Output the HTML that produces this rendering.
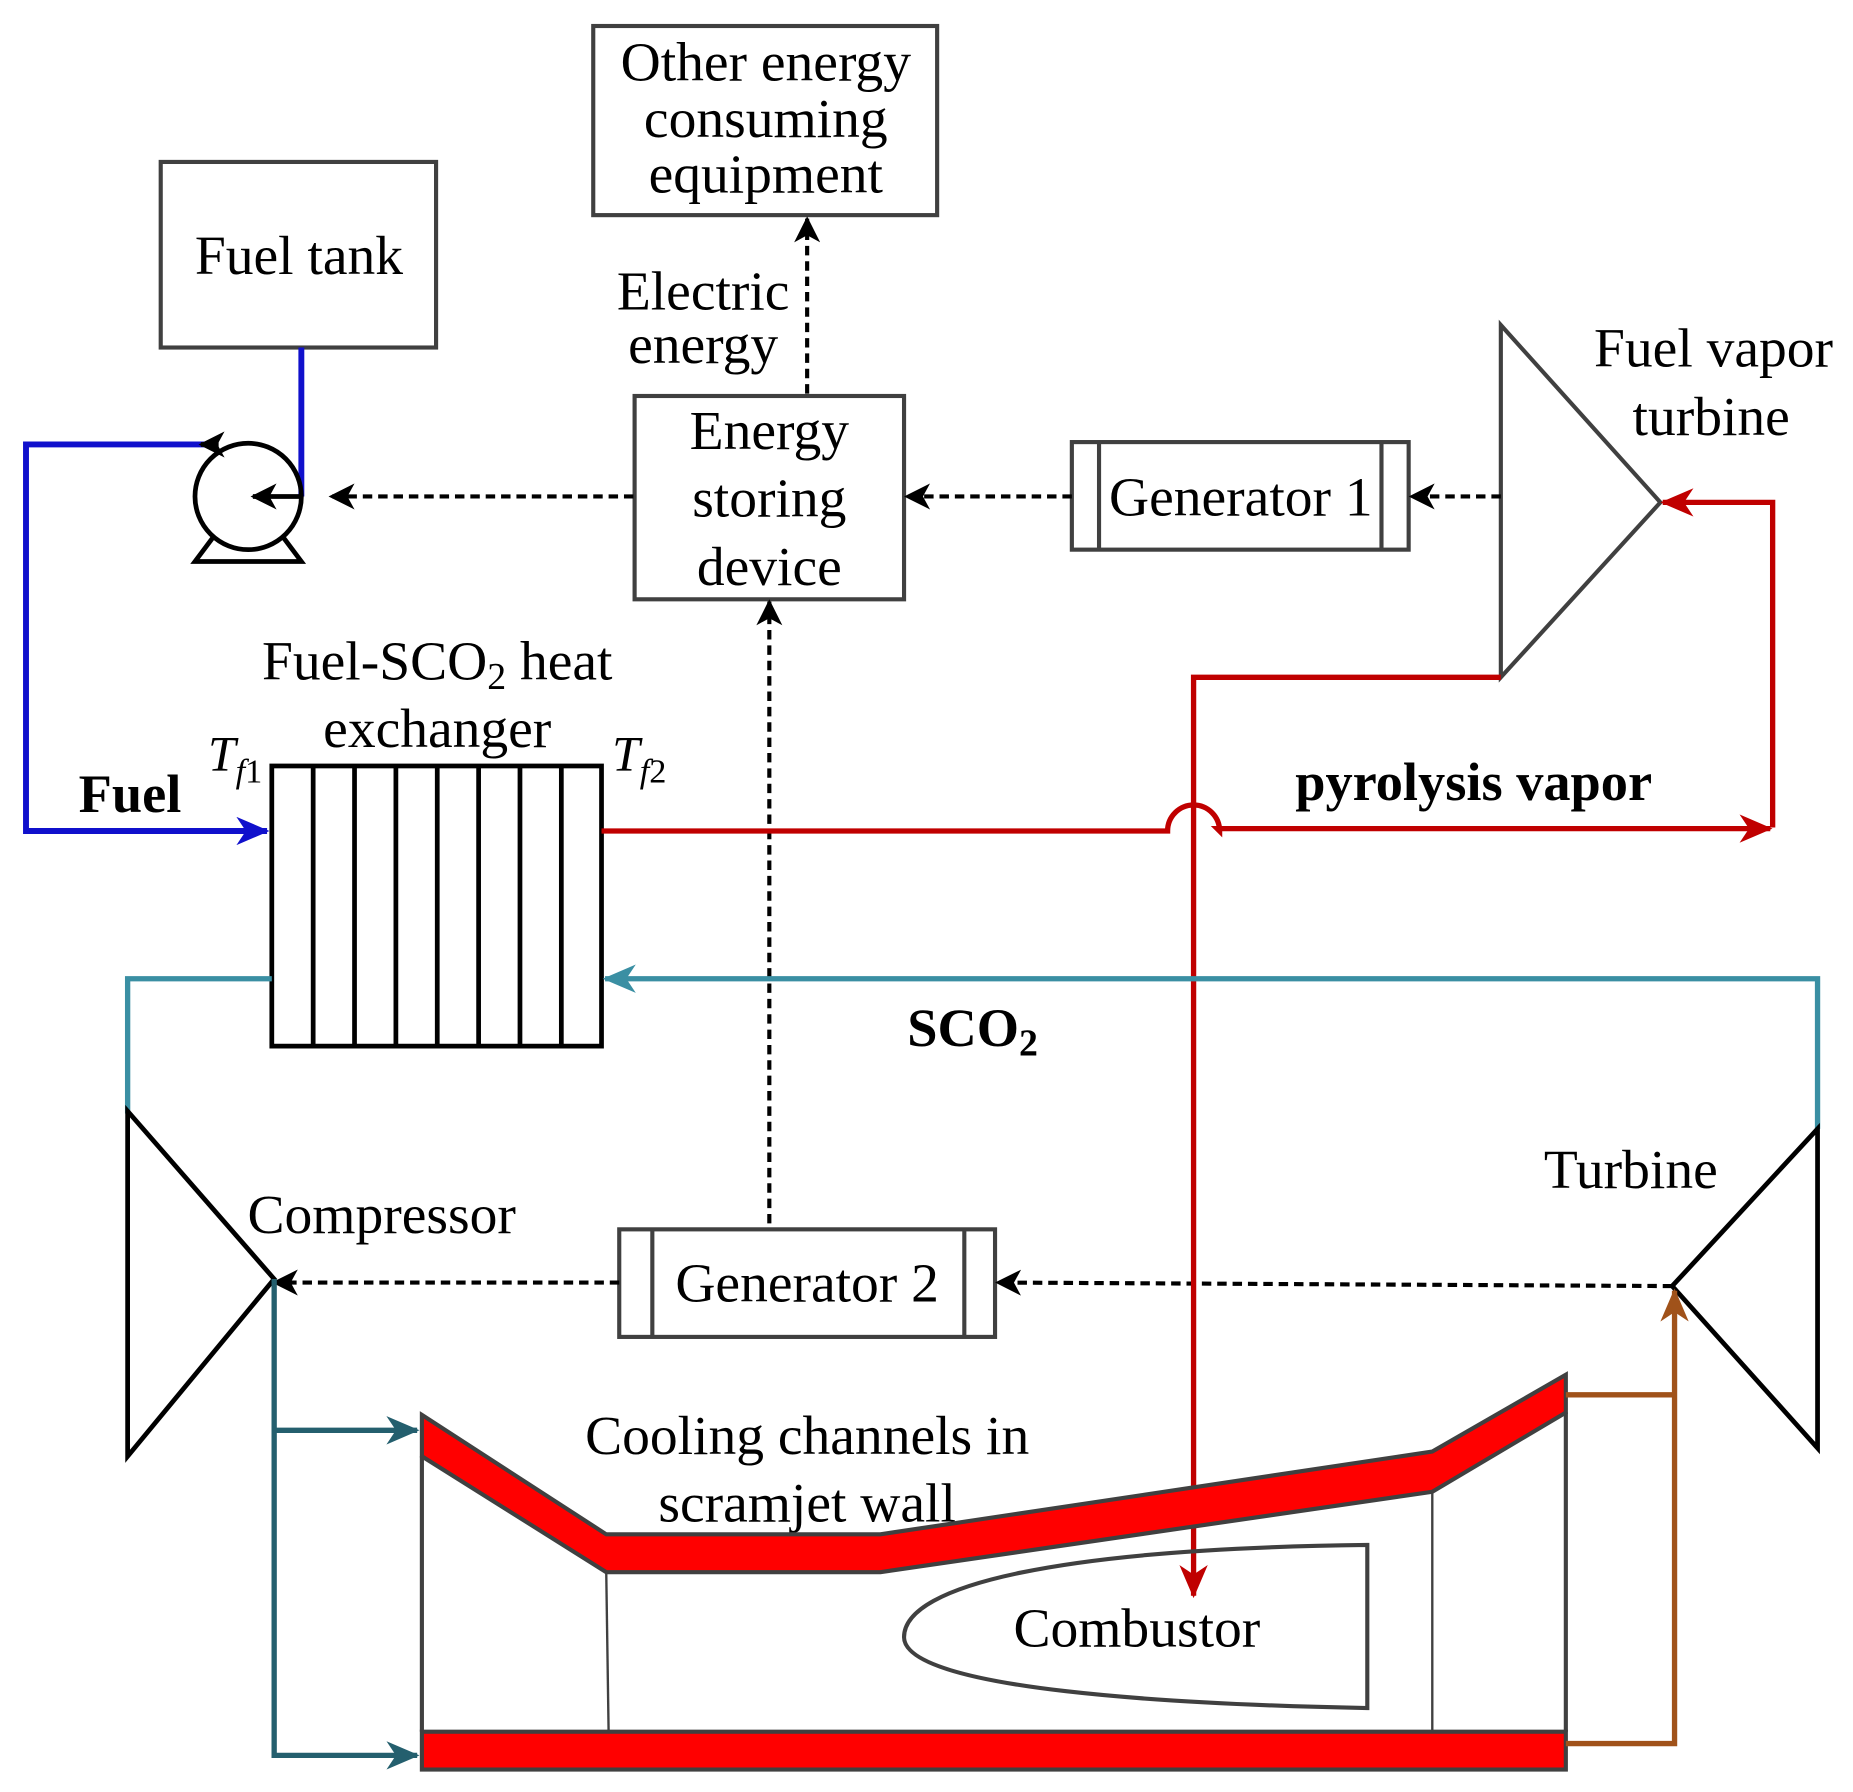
<!DOCTYPE html>
<html><head><meta charset="utf-8"><style>html,body{margin:0;padding:0;background:#fff}svg{display:block}</style></head>
<body>
<svg width="1853" height="1792" viewBox="0 0 1568 1516" preserveAspectRatio="none" xmlns="http://www.w3.org/2000/svg" font-family="Liberation Serif, serif" font-size="42">
<defs>
<marker id="ab" markerWidth="28" markerHeight="24" refX="26" refY="12" orient="auto" markerUnits="userSpaceOnUse"><path d="M0,0 L28,12 L0,24 L8,12 z" fill="#1010cc"/></marker>
<marker id="ar" markerWidth="28" markerHeight="24" refX="26" refY="12" orient="auto" markerUnits="userSpaceOnUse"><path d="M0,0 L28,12 L0,24 L8,12 z" fill="#c00000"/></marker>
<marker id="at" markerWidth="28" markerHeight="24" refX="26" refY="12" orient="auto" markerUnits="userSpaceOnUse"><path d="M0,0 L28,12 L0,24 L8,12 z" fill="#3a8fa3"/></marker>
<marker id="ad" markerWidth="28" markerHeight="24" refX="26" refY="12" orient="auto" markerUnits="userSpaceOnUse"><path d="M0,0 L28,12 L0,24 L8,12 z" fill="#245f6e"/></marker>
<marker id="an" markerWidth="28" markerHeight="24" refX="26" refY="12" orient="auto" markerUnits="userSpaceOnUse"><path d="M0,0 L28,12 L0,24 L8,12 z" fill="#a0521a"/></marker>
<marker id="ad2" markerWidth="24" markerHeight="22" refX="20" refY="11" orient="auto" markerUnits="userSpaceOnUse"><path d="M0,0 L22,11 L0,22 L6,11 z" fill="#000"/></marker>
</defs>
<g fill="none" stroke="#404040" stroke-width="3.5">
<rect x="502" y="22" width="291" height="160"/>
<rect x="136" y="137" width="233" height="157"/>
<rect x="537" y="335" width="228" height="172"/>
<rect x="907" y="374" width="285" height="91"/>
<line x1="930" y1="374" x2="930" y2="465"/><line x1="1169" y1="374" x2="1169" y2="465"/>
<polygon points="1270,275 1405,425 1270,573"/>
<rect x="524" y="1040" width="318" height="91"/>
<line x1="552" y1="1040" x2="552" y2="1131"/><line x1="816" y1="1040" x2="816" y2="1131"/>
</g>
<g font-size="47" text-anchor="middle">
<text x="648" y="68">Other energy</text>
<text x="648" y="116">consuming</text>
<text x="648" y="163">equipment</text>
<text x="253" y="232">Fuel tank</text>
<text x="595" y="262">Electric</text>
<text x="595" y="307">energy</text>
<text x="651" y="380">Energy</text>
<text x="651" y="437">storing</text>
<text x="651" y="495">device</text>
<text x="1050" y="436">Generator 1</text>
<text x="1450" y="310">Fuel vapor</text>
<text x="1448" y="368">turbine</text>
<text x="370" y="575">Fuel-SCO<tspan font-size="32" dy="8">2</tspan><tspan dy="-8"> heat</tspan></text>
<text x="370" y="632">exchanger</text>
<text x="683" y="1101">Generator 2</text>
<text x="323" y="1043">Compressor</text>
<text x="1380" y="1005">Turbine</text>
<text x="683" y="1230">Cooling channels in</text>
<text x="683" y="1287">scramjet wall</text>
<text x="962" y="1393">Combustor</text>
</g>
<g font-size="46" font-weight="bold" text-anchor="middle">
<text x="110" y="687">Fuel</text>
<text x="1247" y="677">pyrolysis vapor</text>
<text x="823" y="885">SCO<tspan font-size="32" dy="8">2</tspan></text>
</g>
<g font-size="42" font-style="italic">
<text x="176" y="652">T<tspan font-size="29" dy="10">f</tspan><tspan font-size="29" font-style="normal">1</tspan></text>
<text x="518" y="652">T<tspan font-size="29" dy="10">f</tspan><tspan font-size="29" font-style="normal">2</tspan></text>
</g>
<g stroke="#1010cc" stroke-width="5" fill="none">
<polyline points="255,294 255,420"/>
<polyline points="175,376 22,376 22,703 226,703" marker-end="url(#ab)"/>
</g>
<g stroke="#000" stroke-width="4" fill="none">
<circle cx="210" cy="420" r="45"/>
<path d="M180,455 L165,475 L255,475 L240,455"/>
<line x1="255" y1="420" x2="214" y2="420" marker-end="url(#ad2)"/>
<path d="M185,376 L170,376" marker-end="url(#ad2)"/>
</g>
<g stroke="#000" stroke-width="3.5" stroke-dasharray="8,5" fill="none">
<line x1="536" y1="420" x2="280" y2="420" marker-end="url(#ad2)"/>
<line x1="683" y1="333" x2="683" y2="185" marker-end="url(#ad2)"/>
<line x1="1270" y1="420" x2="1194" y2="420" marker-end="url(#ad2)"/>
<line x1="907" y1="420" x2="767" y2="420" marker-end="url(#ad2)"/>
<line x1="1415" y1="1088" x2="844" y2="1085" marker-end="url(#ad2)"/>
<line x1="524" y1="1085" x2="232" y2="1085" marker-end="url(#ad2)"/>
<line x1="651" y1="1035" x2="651" y2="509" marker-end="url(#ad2)"/>
</g>
<g stroke="#000" stroke-width="4" fill="#fff">
<rect x="230" y="648" width="279" height="237"/>
<line x1="265" y1="648" x2="265" y2="885"/><line x1="300" y1="648" x2="300" y2="885"/>
<line x1="335" y1="648" x2="335" y2="885"/><line x1="370" y1="648" x2="370" y2="885"/>
<line x1="405" y1="648" x2="405" y2="885"/><line x1="440" y1="648" x2="440" y2="885"/>
<line x1="475" y1="648" x2="475" y2="885"/>
</g>
<g stroke="#c00000" stroke-width="4.5" fill="none">
<polyline points="1500,700 1500,425 1407,425" marker-end="url(#ar)"/>
<path d="M509,703 L988,703 A22,22 0 0 1 1032,703 L1030,701 L1498,701" marker-end="url(#ar)"/>
<polyline points="1270,573 1010,573 1010,1350" marker-end="url(#ar)"/>
</g>
<g stroke="#3a8fa3" stroke-width="4.5" fill="none">
<polyline points="1538,955 1538,828 512,828" marker-end="url(#at)"/>
<polyline points="230,828 108,828 108,942"/>
</g>
<g stroke="#000" stroke-width="4" fill="none">
<polygon points="108,940 232,1082 108,1232"/>
<polygon points="1538,955 1415,1088 1538,1225"/>
</g>
<g stroke="#404040" stroke-width="3.5">
<polygon fill="#ff0000" points="357,1197 513,1298 745,1298 1212,1228 1325,1163 1325,1195 1212,1262 745,1330 513,1330 357,1232"/>
<rect x="357" y="1465" width="968" height="32" fill="#ff0000"/>
<line x1="357" y1="1232" x2="357" y2="1465"/>
<line x1="1325" y1="1195" x2="1325" y2="1465"/>
<line x1="513" y1="1330" x2="515" y2="1465" stroke-width="2"/>
<line x1="1212" y1="1262" x2="1212" y2="1465" stroke-width="2"/>
<path d="M1157,1307 L1157,1445 C1000,1442 765,1430 765,1385 C765,1340 900,1310 1157,1307 Z" fill="none"/>
</g>
<g stroke="#245f6e" stroke-width="4.5" fill="none">
<polyline points="232,1082 232,1485 353,1485" marker-end="url(#ad)"/>
<line x1="232" y1="1210" x2="353" y2="1210" marker-end="url(#ad)"/>
</g>
<g stroke="#a0521a" stroke-width="4.5" fill="none">
<line x1="1325" y1="1180" x2="1415" y2="1180"/>
<polyline points="1325,1475 1417,1475 1417,1092" marker-end="url(#an)"/>
</g>
</svg>
</body></html>
